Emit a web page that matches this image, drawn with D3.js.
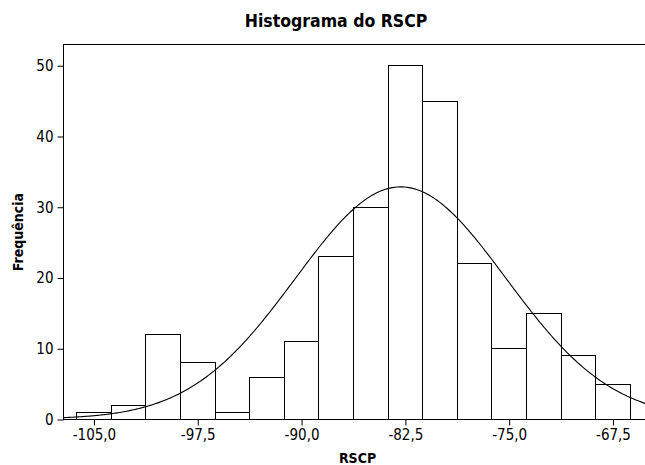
<!DOCTYPE html>
<html>
<head>
<meta charset="utf-8">
<script src="https://cdn.jsdelivr.net/npm/d3@7"></script>
<style>
  html, body { margin: 0; padding: 0; background: #fff; }
  svg { display: block; }
  text { font-family: "DejaVu Sans Condensed", "DejaVu Sans", sans-serif; font-stretch: condensed; fill: #000; }
</style>
</head>
<body>
<script>
// ---- data ----
const binCenters = [-105, -102.5, -100, -97.5, -95, -92.5, -90, -87.5, -85, -82.5, -80, -77.5, -75, -72.5, -70, -67.5];
const counts = [1, 2, 12, 8, 1, 6, 11, 23, 30, 50, 45, 22, 10, 15, 9, 5];
const binWidth = 2.5;
const xTickValues = [-105, -97.5, -90, -82.5, -75, -67.5];
const yTickValues = [0, 10, 20, 30, 40, 50];
const fitMean = -82.8;   // fitted normal curve parameters
const fitSd = 7.6;
const titleText = "Histograma do RSCP";
const xLabel = "RSCP";
const yLabel = "Frequência";

// ---- layout ----
const W = 645, H = 465;
const mLeft = 63, mTop = 44, mBottom = 419, mRight = 645;

const svg = d3.select("body").append("svg").attr("width", W).attr("height", H);

const x = d3.scaleLinear().domain([-107.2, -65.15]).range([mLeft, mRight]);
const y = d3.scaleLinear().domain([0, 53]).range([mBottom, mTop]);

const locale = d3.formatLocale({decimal: ",", thousands: ".", grouping: [3], currency: ["", ""], minus: "-"});
const fmtX = locale.format(".1f");

const n = d3.sum(counts);

// bars
const bars = binCenters.map((c, i) => ({x0: c - binWidth / 2, x1: c + binWidth / 2, v: counts[i]}));
svg.append("g").selectAll("rect").data(bars).join("rect")
  .attr("x", d => Math.round(x(d.x0)) + 0.5)
  .attr("y", d => Math.round(y(d.v)) + 0.5)
  .attr("width", d => Math.round(x(d.x1)) - Math.round(x(d.x0)))
  .attr("height", d => Math.round(y(0)) - Math.round(y(d.v)))
  .attr("fill", "#fff").attr("stroke", "#000").attr("stroke-width", 1);

// normal fit curve
const pts = d3.range(x.domain()[0], x.domain()[1] + 0.1, 0.1).map(v => {
  const z = (v - fitMean) / fitSd;
  return [v, n * binWidth / (fitSd * Math.sqrt(2 * Math.PI)) * Math.exp(-0.5 * z * z)];
});
svg.append("path").datum(pts)
  .attr("d", d3.line().x(d => x(d[0])).y(d => y(d[1])).curve(d3.curveLinear))
  .attr("fill", "none").attr("stroke", "#000").attr("stroke-width", 1.1);

// frame top
svg.append("line").attr("x1", mLeft).attr("x2", mRight).attr("y1", mTop + 0.5).attr("y2", mTop + 0.5)
  .attr("stroke", "#000").attr("stroke-width", 1);

// axes
const xAxis = d3.axisBottom(x).tickValues(xTickValues).tickFormat(fmtX).tickSizeOuter(0).tickSize(6).tickPadding(4);
const gx = svg.append("g").attr("transform", `translate(0.5,${mBottom + 0.5})`).call(xAxis);
gx.select(".domain").attr("d", `M${mLeft - 0.5},0H${mRight}`).attr("stroke", "#000");
gx.selectAll("text").attr("font-size", 15);

const yAxis = d3.axisLeft(y).tickValues(yTickValues).tickFormat(d3.format("d")).tickSizeOuter(0).tickSize(6).tickPadding(4);
const gy = svg.append("g").attr("transform", `translate(${mLeft + 0.5},0.5)`).call(yAxis);
gy.select(".domain").attr("d", `M0,${mTop}V${mBottom}`).attr("stroke", "#000");
gy.selectAll("text").attr("font-size", 15);
svg.selectAll(".tick line").attr("stroke", "#000");

// titles
svg.append("text").attr("x", 336).attr("y", 27).attr("text-anchor", "middle")
  .attr("font-size", 17.5).attr("font-weight", "bold").text(titleText);
svg.append("text").attr("x", 357.5).attr("y", 463).attr("text-anchor", "middle")
  .attr("font-size", 14).attr("font-weight", "bold").text(xLabel);
svg.append("text").attr("transform", "translate(23,232) rotate(-90)").attr("text-anchor", "middle")
  .attr("font-size", 14).attr("font-weight", "bold").text(yLabel);
</script>
</body>
</html>
